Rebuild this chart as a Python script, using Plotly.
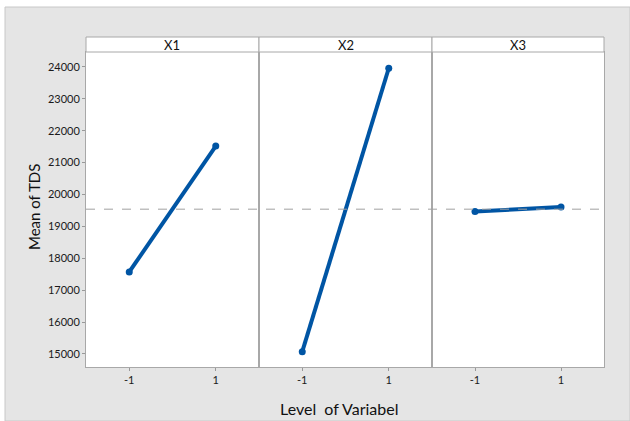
import plotly.graph_objects as go
from plotly.subplots import make_subplots

# ---- data ----
factors = ["X1", "X2", "X3"]
levels = [-1, 1]
x1_means = [17570, 21520]
x2_means = [15070, 23960]
x3_means = [19465, 19610]
grand_mean = 19540
y_ticks = [15000, 16000, 17000, 18000, 19000, 20000, 21000, 22000, 23000, 24000]
y_tick_labels = [str(v) for v in y_ticks]
x_tick_labels = ["-1", "1"]

series = [x1_means, x2_means, x3_means]

W, H = 630, 421
FONT = "Lato"
BLUE = "#0055A4"

def px_x(v):
    return v / W

def px_y(v):
    return (H - v) / H

panel_edges = [86, 259, 432, 604]
y_bottom, y_top = 367, 52
header_top = 37

fig = make_subplots(rows=1, cols=3, shared_yaxes=True, horizontal_spacing=0)

for i, vals in enumerate(series):
    fig.add_trace(
        go.Scatter(
            x=levels, y=vals, mode="lines+markers",
            line=dict(color=BLUE, width=4),
            marker=dict(color=BLUE, size=7),
            showlegend=False, hoverinfo="skip",
        ),
        row=1, col=i + 1,
    )

for i in range(3):
    ax = "xaxis" if i == 0 else f"xaxis{i+1}"
    fig.layout[ax].update(
        domain=[px_x(panel_edges[i]), px_x(panel_edges[i + 1])],
        range=[-2, 2],
        tickvals=levels, ticktext=x_tick_labels,
        ticks="outside", ticklen=3, tickcolor="#999999",
        showgrid=False, zeroline=False,
        showline=True, linecolor="#A8A8A8", linewidth=1, mirror=True,
        tickfont=dict(family=FONT, size=11, color="#1A1A1A"),
    )
    yax = "yaxis" if i == 0 else f"yaxis{i+1}"
    fig.layout[yax].update(
        domain=[px_y(y_bottom), px_y(y_top)],
        range=[14590, 24470],
        showgrid=False, zeroline=False,
        showline=True, linecolor="#A8A8A8", linewidth=1, mirror=True,
    )

fig.update_yaxes(
    tickvals=y_ticks, ticktext=y_tick_labels,
    ticks="outside", ticklen=3, tickcolor="#999999",
    tickfont=dict(family=FONT, size=11, color="#1A1A1A"),
    row=1, col=1,
)

shapes = []
# outer gray panel
shapes.append(dict(type="rect", xref="paper", yref="paper",
                   x0=px_x(5), x1=1.0, y0=0, y1=px_y(7),
                   fillcolor="#E5E5E5", line=dict(color="#C8C8C8", width=1),
                   layer="below"))
# white plot region
shapes.append(dict(type="rect", xref="paper", yref="paper",
                   x0=px_x(86), x1=px_x(604), y0=px_y(y_bottom), y1=px_y(header_top),
                   fillcolor="white", line=dict(width=0), layer="below"))
# header strips
for i in range(3):
    shapes.append(dict(type="rect", xref="paper", yref="paper",
                       x0=px_x(panel_edges[i]), x1=px_x(panel_edges[i + 1]),
                       y0=px_y(y_top), y1=px_y(header_top),
                       fillcolor="white", line=dict(color="#A8A8A8", width=1)))
# grand mean reference line
shapes.append(dict(type="line", xref="paper", yref="y",
                   x0=px_x(86), x1=px_x(604), y0=grand_mean, y1=grand_mean,
                   line=dict(color="#A0A0A0", width=1, dash="dash")))

annotations = []
for i, name in enumerate(factors):
    annotations.append(dict(
        text=name, xref="paper", yref="paper",
        x=(px_x(panel_edges[i]) + px_x(panel_edges[i + 1])) / 2,
        y=(px_y(y_top) + px_y(header_top)) / 2,
        showarrow=False, xanchor="center", yanchor="middle",
        font=dict(family=FONT, size=13, color="#111111"),
    ))
annotations.append(dict(
    text="Level\u00a0 of Variabel", xref="paper", yref="paper",
    x=px_x(339), y=px_y(408), showarrow=False,
    xanchor="center", yanchor="middle",
    font=dict(family=FONT, size=16, color="#111111"),
))
annotations.append(dict(
    text="Mean of TDS", xref="paper", yref="paper",
    x=px_x(34), y=px_y(207), showarrow=False, textangle=-90,
    xanchor="center", yanchor="middle",
    font=dict(family=FONT, size=15, color="#111111"),
))

fig.update_layout(
    width=W, height=H,
    margin=dict(l=0, r=0, t=0, b=0),
    paper_bgcolor="white", plot_bgcolor="white",
    shapes=shapes, annotations=annotations,
    font=dict(family=FONT),
)

fig.write_html(
    "out.html",
    config={"displayModeBar": False},
    post_script="document.body.style.margin='0';document.body.style.overflow='hidden';",
)
